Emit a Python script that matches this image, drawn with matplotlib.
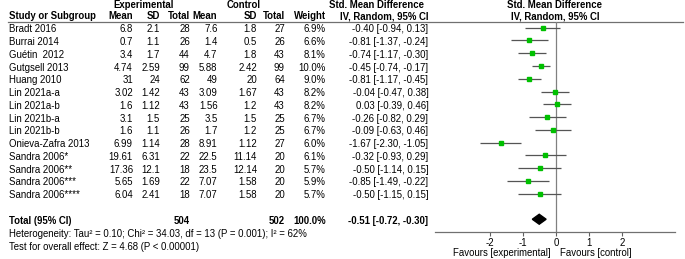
import numpy as np
import matplotlib
matplotlib.use("Agg")
import matplotlib.pyplot as plt

plt.rcParams['font.family'] = ['Liberation Sans', 'DejaVu Sans']

# data
study = ["Bradt 2016", "Burrai 2014", "Guétin  2012", "Gutgsell 2013", "Huang 2010",
         "Lin 2021a-a", "Lin 2021a-b", "Lin 2021b-a", "Lin 2021b-b", "Onieva-Zafra 2013",
         "Sandra 2006*", "Sandra 2006**", "Sandra 2006***", "Sandra 2006****"]
exp_mean = [6.8, 0.7, 3.4, 4.74, 31, 3.02, 1.6, 3.1, 1.6, 6.99, 19.61, 17.36, 5.65, 6.04]
exp_sd = [2.1, 1.1, 1.7, 2.59, 24, 1.42, 1.12, 1.5, 1.1, 1.14, 6.31, 12.1, 1.69, 2.41]
exp_n = [28, 26, 44, 99, 62, 43, 43, 25, 26, 28, 22, 18, 22, 18]
ctl_mean = [7.6, 1.4, 4.7, 5.88, 49, 3.09, 1.56, 3.5, 1.7, 8.91, 22.5, 23.5, 7.07, 7.07]
ctl_sd = [1.8, 0.5, 1.8, 2.42, 20, 1.67, 1.2, 1.5, 1.2, 1.12, 11.14, 12.14, 1.58, 1.58]
ctl_n = [27, 26, 43, 99, 64, 43, 43, 25, 25, 27, 20, 20, 20, 20]
weight = [6.9, 6.6, 8.1, 10.0, 9.0, 8.2, 8.2, 6.7, 6.7, 6.0, 6.1, 5.7, 5.9, 5.7]
smd = [-0.40, -0.81, -0.74, -0.45, -0.81, -0.04, 0.03, -0.26, -0.09, -1.67, -0.32, -0.50, -0.85, -0.50]
ci_lo = [-0.94, -1.37, -1.17, -0.74, -1.17, -0.47, -0.39, -0.82, -0.63, -2.30, -0.93, -1.14, -1.49, -1.15]
ci_hi = [0.13, -0.24, -0.30, -0.17, -0.45, 0.38, 0.46, 0.29, 0.46, -1.05, 0.29, 0.15, -0.22, 0.15]
total_weight = 100.0
total_smd, total_lo, total_hi = -0.51, -0.72, -0.30
het_text = "Heterogeneity: Tau² = 0.10; Chi² = 34.03, df = 13 (P = 0.001); I² = 62%"
test_text = "Test for overall effect: Z = 4.68 (P < 0.00001)"
xticks = [-2, -1, 0, 1, 2]

W, H = 685, 259
fig = plt.figure(figsize=(W / 100, H / 100), dpi=100)

# text layer in pixel coordinates
tx = fig.add_axes([0, 0, 1, 1])
tx.set_xlim(0, W)
tx.set_ylim(H, 0)
tx.axis('off')

fs = 6.9
row0, dy = 27.7, 12.77
def ry(i):
    return row0 + dy * i + 1.5

# headers
tx.text(143.5, 5, "Experimental", ha='center', va='center', fontsize=fs, fontweight='bold')
tx.text(243.5, 5, "Control", ha='center', va='center', fontsize=fs, fontweight='bold')
tx.text(377, 5, "Std. Mean Difference", ha='center', va='center', fontsize=fs, fontweight='bold')
tx.text(555, 5, "Std. Mean Difference", ha='center', va='center', fontsize=fs, fontweight='bold')
hy = 16.2
tx.text(9, hy, "Study or Subgroup", ha='left', va='center', fontsize=fs, fontweight='bold')
cols = [133, 160, 190, 217.5, 257, 285, 326]
for x, lab in zip(cols, ["Mean", "SD", "Total", "Mean", "SD", "Total", "Weight"]):
    tx.text(x, hy, lab, ha='right', va='center', fontsize=fs, fontweight='bold')
tx.text(428.5, hy, "IV, Random, 95% CI", ha='right', va='center', fontsize=fs, fontweight='bold')
tx.text(555, hy, "IV, Random, 95% CI", ha='center', va='center', fontsize=fs, fontweight='bold')
tx.plot([8, 683], [21.7, 21.7], color='#707070', lw=0.9)

# study rows
for i in range(len(study)):
    y = ry(i)
    tx.text(9, y, study[i], ha='left', va='center', fontsize=fs)
    vals = [f"{exp_mean[i]:g}", f"{exp_sd[i]:g}", f"{exp_n[i]}",
            f"{ctl_mean[i]:g}", f"{ctl_sd[i]:g}", f"{ctl_n[i]}", f"{weight[i]:.1f}%"]
    for x, v in zip(cols, vals):
        tx.text(x, y, v, ha='right', va='center', fontsize=fs)
    tx.text(428.5, y, f"{smd[i]:.2f} [{ci_lo[i]:.2f}, {ci_hi[i]:.2f}]",
            ha='right', va='center', fontsize=fs)

# total row
yt = ry(15)
tx.text(9, yt, "Total (95% CI)", ha='left', va='center', fontsize=fs, fontweight='bold')
tx.text(cols[2], yt, f"{sum(exp_n)}", ha='right', va='center', fontsize=fs, fontweight='bold')
tx.text(cols[5], yt, f"{sum(ctl_n)}", ha='right', va='center', fontsize=fs, fontweight='bold')
tx.text(cols[6], yt, f"{total_weight:.1f}%", ha='right', va='center', fontsize=fs, fontweight='bold')
tx.text(428.5, yt, f"{total_smd:.2f} [{total_lo:.2f}, {total_hi:.2f}]",
        ha='right', va='center', fontsize=fs, fontweight='bold')
tx.text(9, 234.2, het_text, ha='left', va='center', fontsize=fs)
tx.text(9, 246.8, test_text, ha='left', va='center', fontsize=fs)
tx.text(551, 252.7, "Favours [experimental]", ha='right', va='center', fontsize=fs)
tx.text(560, 252.7, "Favours [control]", ha='left', va='center', fontsize=fs)

# forest panel
x0, x1 = 435, 675
ytop, ybot = 21.7, 231.7
unit = 32.9
zero_px = 556
ax = fig.add_axes([x0 / W, 1 - ybot / H, (x1 - x0) / W, (ybot - ytop) / H])
ax.set_xlim((x0 - zero_px) / unit, (x1 - zero_px) / unit)
ax.set_ylim((ybot - row0) / dy, (ytop - row0) / dy)
ax.patch.set_alpha(0)
for s in ['top', 'left', 'right']:
    ax.spines[s].set_visible(False)
ax.spines['bottom'].set_color('#707070')
ax.spines['bottom'].set_linewidth(0.9)
ax.set_yticks([])
ax.set_xticks(xticks)
ax.set_xticklabels([str(t) for t in xticks])
ax.tick_params(axis='x', direction='out', length=3, width=0.8, color='#606060',
               labelsize=fs, pad=1.2)
ax.axvline(0, color='#808080', lw=0.9, zorder=1)

rows = np.arange(len(study))
ax.hlines(rows, ci_lo, ci_hi, color='#555555', lw=0.9, zorder=2)
for i in rows:
    ax.plot(smd[i], i, marker='s', color='#00c000', mec='#00c000',
            ms=2.2 + 0.13 * weight[i], zorder=3)

dh = 0.39
ax.fill([total_lo, total_smd, total_hi, total_smd], [15, 15 - dh, 15, 15 + dh],
        color='black', zorder=3)

fig.savefig("out.png", dpi=100)
